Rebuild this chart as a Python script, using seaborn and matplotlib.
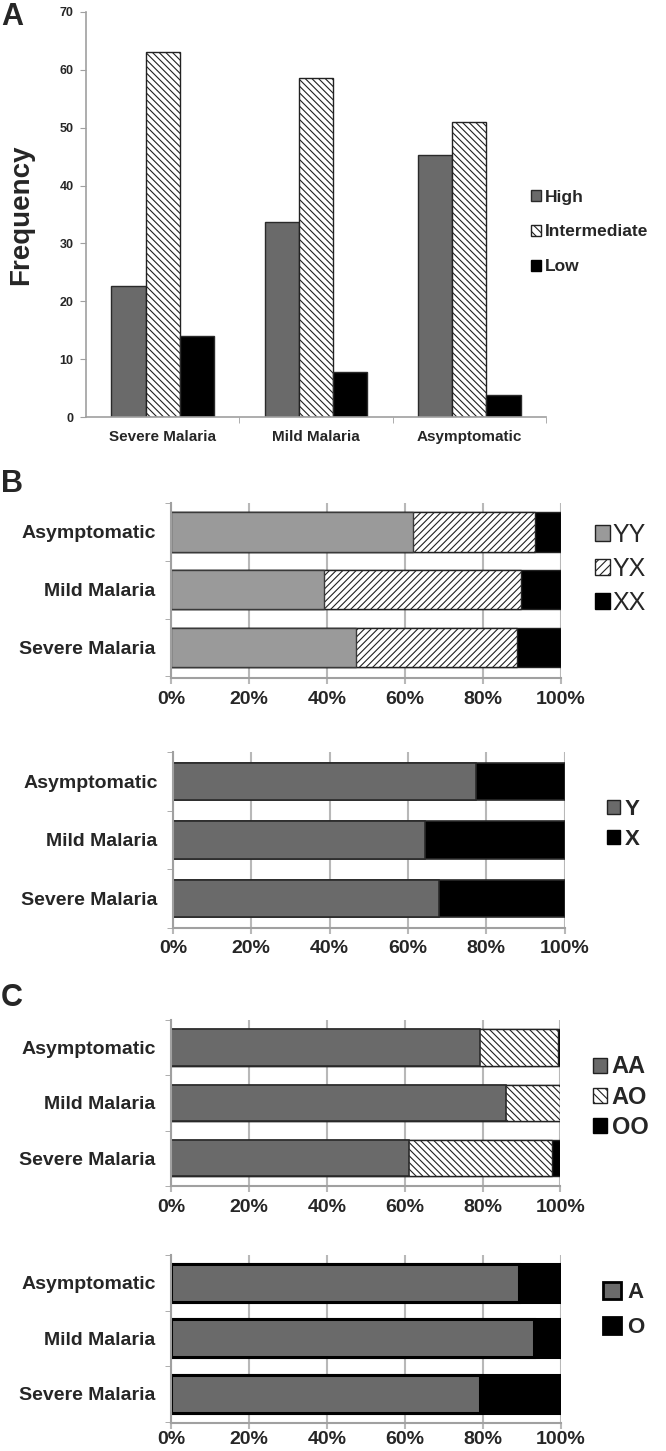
import matplotlib
matplotlib.use("Agg")
import matplotlib.pyplot as plt
import seaborn as sns
import pandas as pd
import numpy as np
from matplotlib.patches import Patch

# ---------------- data ----------------
groups_a = ["Severe Malaria", "Mild Malaria", "Asymptomatic"]
levels_a = ["High", "Intermediate", "Low"]
high = [22.7, 33.7, 45.2]
intermediate = [63.0, 58.5, 50.9]
low = [14.1, 7.8, 3.8]
freq_ticks = [0, 10, 20, 30, 40, 50, 60, 70]

groups_h = ["Asymptomatic", "Mild Malaria", "Severe Malaria"]
yy = [62.0, 39.3, 47.4]
yx = [31.4, 50.5, 41.4]
xx = [6.6, 10.2, 11.2]
y_allele = [77.4, 64.4, 68.0]
x_allele = [22.6, 35.6, 32.0]
aa = [79.3, 86.0, 61.1]
ao = [20.0, 14.0, 36.7]
oo = [0.7, 0.0, 2.2]
a_allele = [89.3, 93.2, 79.2]
o_allele = [10.7, 6.8, 20.8]
pct_ticks = [0, 20, 40, 60, 80, 100]
pct_labels = ["0%", "20%", "40%", "60%", "80%", "100%"]

# ---------------- style ----------------
sns.set_style("white")
plt.rcParams["font.family"] = ["Liberation Sans", "DejaVu Sans"]
plt.rcParams["font.weight"] = "bold"
plt.rcParams["hatch.linewidth"] = 0.8

DARK = "#6a6a6a"
LIGHT = "#9a9a9a"
BLACK = "#000000"
SPINE = "#a0a0a0"
GRID = "#b8b8b8"

W, H = 666, 1451
fig = plt.figure(figsize=(W / 100, H / 100), dpi=100)


def px_axes(left, right, top, bottom):
    return fig.add_axes([left / W, 1 - bottom / H, (right - left) / W, (bottom - top) / H])


# ---------------- panel A ----------------
axA = px_axes(86, 546, 11.7, 417.3)
dfA = pd.DataFrame({
    "group": groups_a * 3,
    "level": [levels_a[0]] * 3 + [levels_a[1]] * 3 + [levels_a[2]] * 3,
    "value": high + intermediate + low,
})
sns.barplot(data=dfA, x="group", y="value", hue="level", order=groups_a,
            hue_order=levels_a, palette=[DARK, "white", BLACK], saturation=1,
            width=0.67, errorbar=None, edgecolor="#2a2a2a", linewidth=1.0,
            legend=False, ax=axA)
for bar in axA.containers[1]:
    bar.set_hatch("\\\\\\\\\\")
    bar.set_edgecolor("#222222")
axA.set_xlim(-0.5, 2.5)
axA.set_ylim(0, 70)
axA.set_yticks(freq_ticks)
axA.set_xlabel("")
axA.set_ylabel("Frequency", fontsize=20, fontweight="bold")
axA.yaxis.set_label_coords(-0.112, 0.5)
for s in ["top", "right"]:
    axA.spines[s].set_visible(False)
for s in ["left", "bottom"]:
    axA.spines[s].set_color(SPINE)
    axA.spines[s].set_linewidth(1.2)
axA.tick_params(axis="y", length=4, color=SPINE, labelsize=9, pad=5, left=True)
axA.tick_params(axis="x", length=0, labelsize=11, pad=9)
axA.set_xticks([0.5, 1.5, 2.5], minor=True)
axA.tick_params(axis="x", which="minor", length=4, color=SPINE, bottom=True)

legA = [Patch(facecolor=DARK, edgecolor="#2a2a2a", linewidth=1.0),
        Patch(facecolor="white", edgecolor="#222222", hatch="\\\\\\\\", linewidth=1.0),
        Patch(facecolor=BLACK, edgecolor=BLACK, linewidth=1.0)]
fig.legend(legA, levels_a, loc="center left", bbox_to_anchor=(531 / W, 1 - 232 / H),
           bbox_transform=fig.transFigure, frameon=False, borderpad=0, borderaxespad=0,
           handlelength=0.58, handleheight=0.58, handletextpad=0.2, labelspacing=1.15,
           prop=dict(size=12.5, weight="bold"))


# ---------------- stacked horizontal panels ----------------
def stacked(ax, series, styles, ylim, height, xpad=5):
    cum = np.cumsum(np.array(series, dtype=float), axis=0)
    for i in reversed(range(len(series))):
        df = pd.DataFrame({"group": groups_h, "value": cum[i]})
        sns.barplot(data=df, x="value", y="group", orient="h", order=groups_h,
                    width=height, errorbar=None, saturation=1, ax=ax, **styles[i])
    ax.set_xlim(0, 100)
    ax.set_ylim(*ylim)
    ax.set_xticks(pct_ticks)
    ax.set_xticklabels(pct_labels)
    ax.set_xlabel("")
    ax.set_ylabel("")
    ax.set_axisbelow(True)
    ax.xaxis.grid(True, color=GRID, linewidth=1.5)
    ax.yaxis.grid(False)
    for s in ["top", "right"]:
        ax.spines[s].set_visible(False)
    for s in ["left", "bottom"]:
        ax.spines[s].set_color(SPINE)
        ax.spines[s].set_linewidth(1.5)
    ax.tick_params(axis="x", length=4, color=GRID, width=1.5, labelsize=14, pad=xpad, bottom=True)
    ax.tick_params(axis="y", length=0, labelsize=14, pad=11)
    ax.set_yticks([-0.5, 0.5, 1.5, 2.5], minor=True)
    ax.tick_params(axis="y", which="minor", length=4, color=SPINE, left=True)


def legend(handles, labels, x, ycen, size, weight, hl, hh, pad, spacing):
    fig.legend(handles, labels, loc="center left", bbox_to_anchor=(x / W, 1 - ycen / H),
               bbox_transform=fig.transFigure, frameon=False, borderpad=0, borderaxespad=0,
               handlelength=hl, handleheight=hh, handletextpad=pad, labelspacing=spacing,
               prop=dict(size=size, weight=weight))


HATCH_B = "/////"
HATCH_C = "\\\\\\\\\\"

# B top
axB1 = px_axes(171, 561, 503, 678)
stB1 = [dict(color=LIGHT, edgecolor="#3a3a3a", linewidth=1.0),
        dict(color="white", edgecolor="#222222", linewidth=1.0, hatch=HATCH_B),
        dict(color=BLACK, edgecolor="#222222", linewidth=1.0)]
stacked(axB1, [yy, yx, xx], stB1, (2.53, -0.30), 0.68)
legend([Patch(facecolor=LIGHT, edgecolor="#222222", linewidth=1.0),
        Patch(facecolor="white", edgecolor="#222222", hatch="////", linewidth=1.0),
        Patch(facecolor=BLACK, edgecolor=BLACK, linewidth=1.0)],
       ["YY", "YX", "XX"], 595, 569, 18, "normal", 0.6, 0.6, 0.08, 0.4)

# B bottom
axB2 = px_axes(173, 564.5, 752, 928)
stB2 = [dict(color=DARK, edgecolor="#2a2a2a", linewidth=1.2),
        dict(color=BLACK, edgecolor="#2a2a2a", linewidth=1.2)]
stacked(axB2, [y_allele, x_allele], stB2, (2.47, -0.47), 0.64)
legend([Patch(facecolor=DARK, edgecolor="#222222", linewidth=1.0),
        Patch(facecolor=BLACK, edgecolor=BLACK, linewidth=1.0)],
       ["Y", "X"], 607, 824.5, 16, "bold", 0.6, 0.6, 0.18, 0.42)

# C top
axC1 = px_axes(171, 560.5, 1020, 1186)
stC1 = [dict(color=DARK, edgecolor="#2a2a2a", linewidth=1.2),
        dict(color="white", edgecolor="#222222", linewidth=1.0, hatch=HATCH_C),
        dict(color=BLACK, edgecolor="#222222", linewidth=1.0)]
stacked(axC1, [aa, ao, oo], stC1, (2.504, -0.434), 0.66)
legend([Patch(facecolor=DARK, edgecolor="#222222", linewidth=1.0),
        Patch(facecolor="white", edgecolor="#222222", hatch="\\\\\\\\", linewidth=1.0),
        Patch(facecolor=BLACK, edgecolor=BLACK, linewidth=1.0)],
       ["AA", "AO", "OO"], 593, 1097, 17, "bold", 0.6, 0.6, 0.2, 0.3)

# C bottom
axC2 = px_axes(171, 561, 1255, 1423)
stC2 = [dict(color=DARK, edgecolor=BLACK, linewidth=2.2),
        dict(color=BLACK, edgecolor=BLACK, linewidth=2.2)]
stacked(axC2, [a_allele, o_allele], stC2, (2.524, -0.498), 0.68, xpad=2)
legend([Patch(facecolor=DARK, edgecolor=BLACK, linewidth=2.0),
        Patch(facecolor=BLACK, edgecolor=BLACK, linewidth=2.0)],
       ["A", "O"], 603, 1310, 16, "bold", 0.8, 0.8, 0.3, 0.65)

# panel letters
fig.text(1 / W, 1 - 17 / H, "A", fontsize=22, fontweight="bold", va="center", ha="left")
fig.text(1 / W, 1 - 484 / H, "B", fontsize=22, fontweight="bold", va="center", ha="left")
fig.text(1 / W, 1 - 998 / H, "C", fontsize=22, fontweight="bold", va="center", ha="left")

fig.savefig("out.png", dpi=100)
